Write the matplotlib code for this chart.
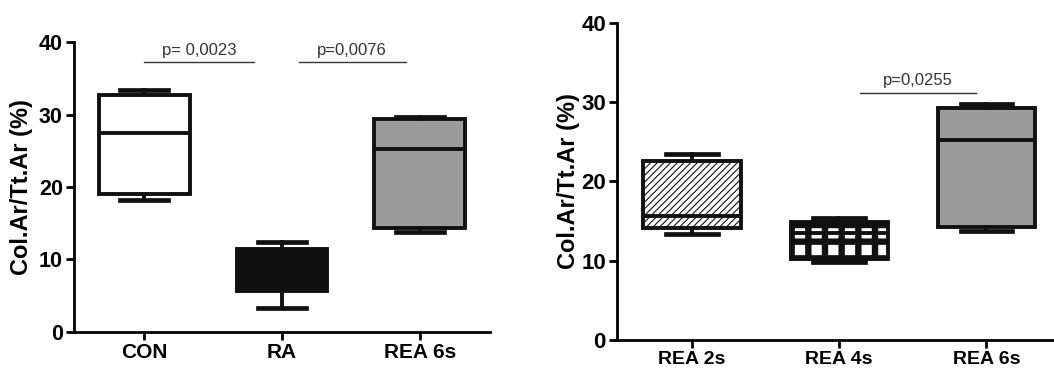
import matplotlib
matplotlib.use("Agg")
import matplotlib.pyplot as plt

plt.rcParams['font.family'] = ['Liberation Sans', 'DejaVu Sans']

# left panel
groups_left = ["CON", "RA", "REA 6s"]
whislo_left = [18.2, 3.3, 13.8]
q1_left = [19.0, 5.7, 14.3]
med_left = [27.4, 8.5, 25.2]
q3_left = [32.7, 11.5, 29.4]
whishi_left = [33.4, 12.4, 29.7]
colors_left = ["white", "#111111", "#9b9b9b"]

# right panel
groups_right = ["REA 2s", "REA 4s", "REA 6s"]
whislo_right = [13.4, 9.8, 13.8]
q1_right = [14.1, 10.2, 14.2]
med_right = [15.6, 13.5, 25.2]
q3_right = [22.6, 14.9, 29.3]
whishi_right = [23.4, 15.4, 29.7]
colors_right = ["white", "white", "#9b9b9b"]
hatches_right = ["/////", "+", None]

# significance bars: (x start, x end, height, label)
sig_left = [(0.0, 0.80, 37.2, "p= 0,0023"), (1.12, 1.90, 37.2, "p=0,0076")]
sig_right = [(1.14, 1.93, 31.2, "p=0,0255")]


def make_stats(lo, q1, med, q3, hi):
    return [dict(whislo=a, q1=b, med=c, q3=d, whishi=e, fliers=[])
            for a, b, c, d, e in zip(lo, q1, med, q3, hi)]


def draw_panel(ax, stats, labels, colors, hatches, sig, xfs, yfs):
    lw = 2.8
    bp = ax.bxp(stats, positions=range(len(stats)), widths=0.66, capwidths=0.35,
                patch_artist=True, showfliers=False,
                boxprops=dict(linewidth=lw, edgecolor='#111111'),
                medianprops=dict(color='#111111', linewidth=lw),
                whiskerprops=dict(color='#111111', linewidth=lw),
                capprops=dict(color='#111111', linewidth=3.4))
    for i, box in enumerate(bp['boxes']):
        box.set_facecolor(colors[i])
        if hatches[i]:
            box.set_hatch(hatches[i])
            if hasattr(box, 'set_hatch_linewidth'):
                box.set_hatch_linewidth(4.6 if hatches[i] == "+" else 0.8)

    for x0, x1, y, txt in sig:
        ax.plot([x0, x1], [y, y], color='#333333', linewidth=1.0)
        ax.text((x0 + x1) / 2, y + 0.6, txt, ha='center', va='bottom',
                fontsize=12, color='#333333')

    ax.set_ylim(0, 40)
    ax.set_yticks([0, 10, 20, 30, 40])
    ax.set_xticks(range(len(labels)))
    ax.set_xticklabels(labels, fontweight='bold', fontsize=xfs)
    for t in ax.get_yticklabels():
        t.set_fontweight('bold')
        t.set_fontsize(yfs)
    ax.set_ylabel("Col.Ar/Tt.Ar (%)", fontsize=17, fontweight='bold')
    ax.spines['top'].set_visible(False)
    ax.spines['right'].set_visible(False)
    ax.spines['left'].set_linewidth(2.0)
    ax.spines['bottom'].set_linewidth(2.0)
    ax.tick_params(width=2.0, length=6, pad=2)


fig = plt.figure(figsize=(10.54, 3.74), dpi=100)

ax1 = fig.add_axes([0.0702, 0.1123, 0.3947, 0.7754])
draw_panel(ax1, make_stats(whislo_left, q1_left, med_left, q3_left, whishi_left),
           groups_left, colors_left, [None, None, None], sig_left, 15, 15.5)
ax1.set_xlim(-0.51, 2.51)
ax1.yaxis.set_label_coords(-0.099, 0.5)

ax2 = fig.add_axes([0.5854, 0.0909, 0.4146, 0.8481])
draw_panel(ax2, make_stats(whislo_right, q1_right, med_right, q3_right, whishi_right),
           groups_right, colors_right, hatches_right, sig_right, 14, 16)
ax2.set_xlim(-0.51, 2.46)
ax2.yaxis.set_label_coords(-0.085, 0.5)

fig.savefig("out.png", dpi=100)
